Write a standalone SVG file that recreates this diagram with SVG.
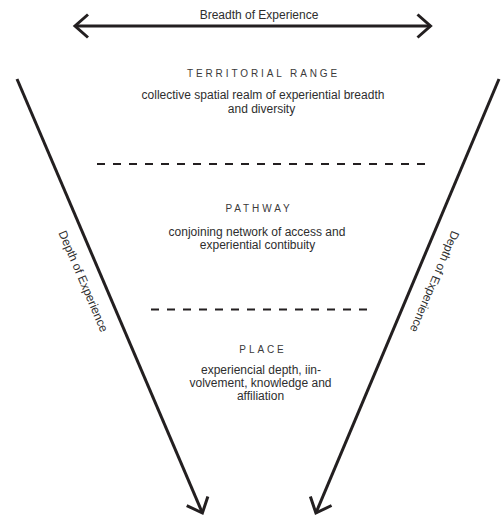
<svg xmlns="http://www.w3.org/2000/svg" width="501" height="521" viewBox="0 0 501 521">
  <style>
    .arrow { fill: none; stroke: #231f20; stroke-width: 3; }
    .dash { fill: none; stroke: #231f20; stroke-width: 2; stroke-dasharray: 8 8; }
    .head { font-family: "Liberation Sans", Arial, sans-serif; font-size: 10px; letter-spacing: 2.9px; fill: #3a3a3a; text-anchor: middle; }
    .body { font-family: "Liberation Sans", Arial, sans-serif; font-size: 12px; fill: #2e2e2e; text-anchor: middle; }
    .lbl { font-family: "Liberation Sans", Arial, sans-serif; font-size: 12px; fill: #2e2e2e; text-anchor: middle; }
  </style>
  <defs>
    <marker id="ah" markerUnits="userSpaceOnUse" markerWidth="40" markerHeight="40" viewBox="-20 -20 40 40" refX="0" refY="0" orient="auto-start-reverse" overflow="visible">
      <path d="M-13,-11.5 L0,0 L-13,11.5" fill="none" stroke="#231f20" stroke-width="3"/>
    </marker>
  </defs>
  <rect width="501" height="521" fill="#ffffff"/>

  <g id="connectors">
    <line id="breadth-arrow" class="arrow" x1="75" y1="26" x2="430.5" y2="26" marker-start="url(#ah)" marker-end="url(#ah)"/>
    <line id="depth-arrow-left" class="arrow" x1="17" y1="79" x2="202.4" y2="513" marker-end="url(#ah)"/>
    <line id="depth-arrow-right" class="arrow" x1="499" y1="79" x2="315.9" y2="513" marker-end="url(#ah)"/>
  </g>

  <g id="breadth-label">
    <text class="lbl" x="259" y="18.5">Breadth of Experience</text>
  </g>
  <g id="depth-label-left" transform="translate(100.2,274) rotate(66.9)">
    <text class="lbl" x="0" y="22.4">Depth of Experience</text>
  </g>
  <g id="depth-label-right" transform="translate(416.7,274) rotate(112.9)">
    <text class="lbl" x="0" y="-15.4">Depth of Experience</text>
  </g>

  <g id="territorial-range">
    <text class="head" x="263.5" y="77.3">TERRITORIAL RANGE</text>
    <text class="body" x="263" y="99">collective spatial realm of experiential breadth</text>
    <text class="body" x="261.5" y="112.7">and diversity</text>
  </g>

  <g id="divider-1">
    <line class="dash" x1="97" y1="164" x2="425" y2="164"/>
  </g>

  <g id="pathway">
    <text class="head" x="259" y="212.3">PATHWAY</text>
    <text class="body" x="257" y="236">conjoining network of access and</text>
    <text class="body" x="257.5" y="249">experiential contibuity</text>
  </g>

  <g id="divider-2">
    <line class="dash" x1="151" y1="309.5" x2="367" y2="309.5"/>
  </g>

  <g id="place">
    <text class="head" x="263" y="353.3">PLACE</text>
    <text class="body" x="261" y="373.8">experiencial depth, iin-</text>
    <text class="body" x="260.5" y="386.5">volvement, knowledge and</text>
    <text class="body" x="260.5" y="399.5">affiliation</text>
  </g>
</svg>
